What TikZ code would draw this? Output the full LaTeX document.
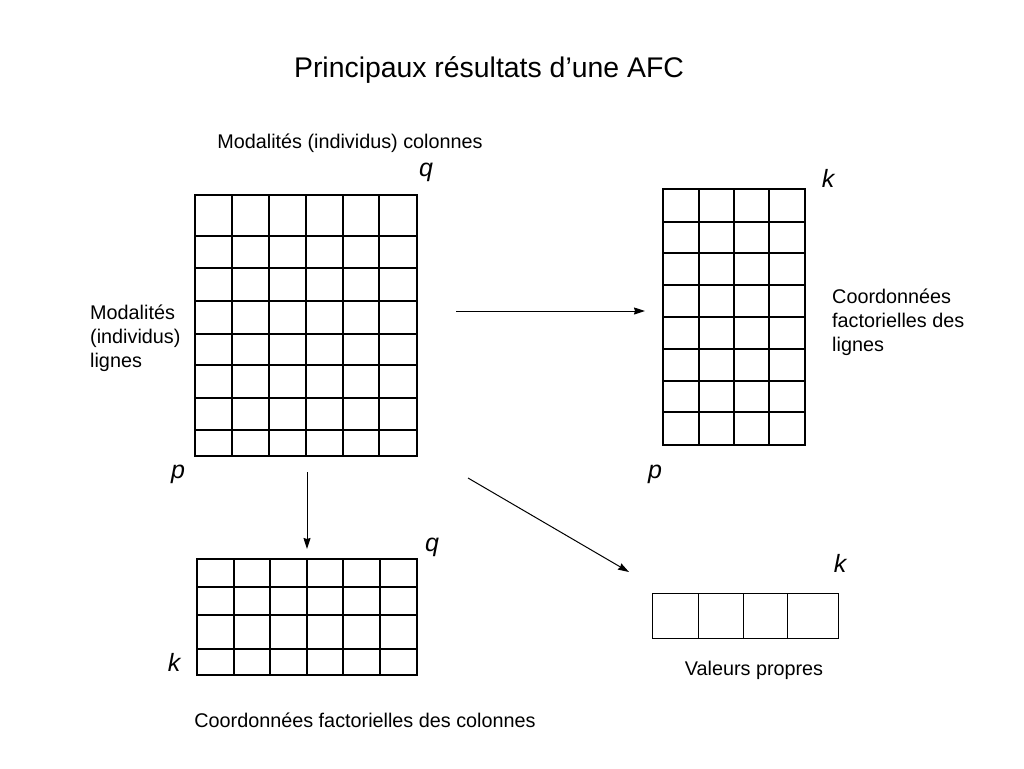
\documentclass[tikz,border=0pt]{standalone}
\usepackage{fontspec}
\setmainfont{Liberation Sans}
\usetikzlibrary{arrows.meta}
\begin{document}
\begin{tikzpicture}[x=1pt,y=-1pt,
    frame/.style={line width=2.8pt},
    cell/.style={line width=1.2pt},
    lbl/.style={font=\fontsize{19.8}{23.8}\selectfont, align=left, inner sep=0pt},
    dimlbl/.style={font=\fontsize{25}{28}\selectfont\itshape, inner sep=0pt},
    flow/.style={line width=1pt,-{Stealth[length=11pt,width=7pt,inset=1pt]}}]
  \useasboundingbox (0,0) rectangle (1024,768);
  \node (title) at (489,70) {\fontsize{28.4}{32}\selectfont Principaux résultats d’une AFC};
  % tableau de depart
  \foreach \x in {232,269,306,343,379} \draw[cell] (\x,195) -- (\x,456);
  \foreach \y in {236,268,301,334,365,398,430} \draw[cell] (195,\y) -- (417,\y);
  \draw[frame] (195,195) rectangle (417,456);
  % coordonnees des lignes
  \foreach \x in {699,734,769} \draw[cell] (\x,189) -- (\x,445);
  \foreach \y in {222,253,285,317,349,381,412} \draw[cell] (663,\y) -- (805,\y);
  \draw[frame] (663,189) rectangle (805,445);
  % coordonnees des colonnes
  \foreach \x in {234,270,307,343,380} \draw[cell] (\x,559) -- (\x,675);
  \foreach \y in {587,615,649} \draw[cell] (197,\y) -- (417,\y);
  \draw[frame] (197,559) rectangle (417,675);
  % valeurs propres
  \foreach \x in {698,743,787} \draw[thick] (\x,593) -- (\x,638);
  \draw[thick] (652,593) rectangle (838,638);
  % textes
  \node (colmod) at (350,143) {\fontsize{19.8}{23}\selectfont Modalités (individus) colonnes};
  \node[lbl, anchor=west] (lignmod) at (90,338) {Modalités\\(individus)\\lignes};
  \node[lbl, anchor=west] (coordl) at (832,322) {Coordonnées\\factorielles des\\lignes};
  \node[lbl] (vp) at (754,670) {Valeurs propres};
  \node[lbl] (coordc) at (365,720) {Coordonnées factorielles des colonnes};
  \node[dimlbl] (q1) at (426,172) {q};
  \node[dimlbl] (k1) at (828,178) {k};
  \node[dimlbl] (p1) at (178,474) {p};
  \node[dimlbl] (p2) at (655,474) {p};
  \node[dimlbl] (q2) at (432,547) {q};
  \node[dimlbl] (k2) at (840,563) {k};
  \node[dimlbl] (k3) at (174,662) {k};
  % fleches
  \coordinate (hA) at (456,311);
  \coordinate (hB) at (645,311);
  \coordinate (vA) at (307,472);
  \coordinate (vB) at (307,549);
  \coordinate (dA) at (468,478);
  \coordinate (dB) at (629,572);
  \draw[flow] (hA) -- (hB);
  \draw[flow] (vA) -- (vB);
  \draw[flow] (dA) -- (dB);
\end{tikzpicture}
\end{document}
